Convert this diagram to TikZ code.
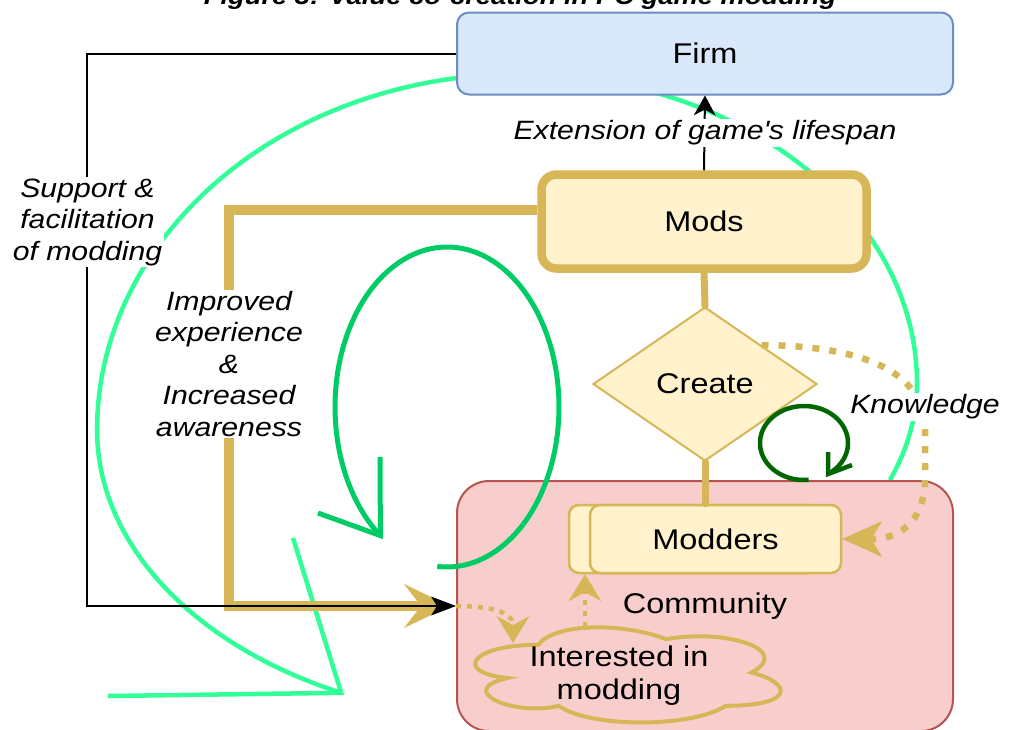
\documentclass[tikz,border=0pt]{standalone}
\usepackage{fontspec}
\setmainfont{Liberation Sans}[FakeStretch=1.14]
\usetikzlibrary{arrows.meta,shapes.geometric,calc}
\definecolor{firmfill}{HTML}{DAE8FC}
\definecolor{firmdraw}{HTML}{6C8EBF}
\definecolor{goldfill}{HTML}{FFF2CC}
\definecolor{golddraw}{HTML}{D6B656}
\definecolor{commfill}{HTML}{F8CECC}
\definecolor{commdraw}{HTML}{B85450}
\definecolor{lightgreen}{HTML}{33FF99}
\definecolor{midgreen}{HTML}{00CC66}
\definecolor{darkgreen}{HTML}{006600}
\tikzset{
  boxfont/.style={font=\fontsize{28.5}{33}\selectfont},
  lbl/.style={font=\fontsize{26.5}{31.5}\selectfont\itshape, fill=white, align=center, inner sep=1.5pt},
  firmbox/.style={draw=firmdraw, fill=firmfill, line width=2pt, rounded corners=12pt, minimum width=496pt, minimum height=82pt, inner sep=0pt, boxfont},
  modsbox/.style={draw=golddraw, fill=goldfill, line width=8.5pt, rounded corners=15pt, minimum width=325pt, minimum height=94pt, inner sep=0pt, boxfont},
  createbox/.style={diamond, draw=golddraw, fill=goldfill, line width=2pt, minimum width=224pt, minimum height=154pt, inner sep=0pt, boxfont},
  commbox/.style={draw=commdraw, fill=commfill, line width=2pt, rounded corners=32pt, minimum width=496pt, minimum height=250pt, inner sep=0pt, boxfont},
  modderbox/.style={draw=golddraw, fill=goldfill, line width=2.5pt, rounded corners=10pt, minimum height=68pt, inner sep=0pt, boxfont},
  cloudline/.style={draw=golddraw, line width=4pt},
  goldthick/.style={draw=golddraw, line width=10pt, line join=miter},
  goldconn/.style={draw=golddraw, line width=7pt, line cap=round},
  blackline/.style={draw=black, line width=2pt},
  bigdots/.style={draw=golddraw, line width=6.5pt, dash pattern=on 7pt off 10pt},
  smalldots/.style={draw=golddraw, line width=4.5pt, dash pattern=on 5pt off 6pt,
    -{Stealth[length=27pt,width=33pt,inset=9pt,line width=0pt]}},
  greenbig/.style={draw=lightgreen, line width=4.5pt, line join=miter},
  greenmid/.style={draw=midgreen, line width=5pt, line join=miter},
  greendark/.style={draw=darkgreen, line width=4.5pt, line join=miter},
}
\begin{document}
\begin{tikzpicture}[x=1pt,y=-1pt]
\useasboundingbox (0,0) rectangle (1009,729);

% title (cut off at top)
\node[font=\fontsize{24}{28}\selectfont\bfseries\itshape, anchor=base, inner sep=0pt] (title) at (520,4) {Figure 3: Value co-creation in PC game modding};

% big light green loop (four elliptic quarters)
\draw[greenbig]
  plot[domain=21.3:0, samples=20] ({520+397*cos(\x)},{383+267*sin(\x)})
  -- plot[domain=0:-90, samples=45] ({520+397*cos(\x)},{383+309*sin(\x)})
  -- plot[domain=-90:-180, samples=45] ({520+423*cos(\x)},{430+356*sin(\x)})
  -- plot[domain=-180:-245, samples=35] ({520+423*cos(\x)},{430+290*sin(\x)});
\draw[greenbig] (293,538) -- (341.2,692.8) -- (108,696);

% nodes
\node[firmbox] (firm) at (705,53.5) {Firm};
\node[modsbox] (mods) at (704,221.5) {Mods};
\node[createbox] (create) at (705,384) {Create};
\node[commbox] (comm) at (705,606) {Community};
\node[modderbox, minimum width=250pt] (modback) at (694,539) {};
\node[modderbox, minimum width=251pt] (modfront) at (715.5,539) {Modders};

% cloud
\draw[cloudline] (538.25,644.75)
  .. controls (470.05,644.75) and (453,672.5) .. (507.56,678.05)
  .. controls (453,690.26) and (514.38,716.9) .. (558.71,705.8)
  .. controls (589.4,728) and (691.7,728) .. (725.8,705.8)
  .. controls (794,705.8) and (794,683.6) .. (751.375,672.5)
  .. controls (794,650.3) and (725.8,628.1) .. (666.125,639.2)
  .. controls (623.5,622.55) and (555.3,622.55) .. (538.25,644.75) -- cycle;
\node[boxfont, align=center, inner sep=0pt] (interest) at (619,676) {Interested in\\modding};
\coordinate (cloudtop) at (585,627);
\coordinate (cloudleft) at (513,643);

% connectors
\coordinate (gcorner) at (228.5,209.5);
\draw[goldthick, shorten >=6pt, -{Stealth[length=46pt,width=44pt,inset=17pt,line width=0pt]}]
  ([yshift=12pt]mods.west) -- (gcorner) |- (comm.west);
\coordinate (bcorner) at (87,53.5);
\draw[blackline, -{Stealth[length=25pt,width=19pt,inset=6pt,line width=0pt]}]
  (firm.west) -- (bcorner) |- (comm.west);
\draw[blackline, -{Stealth[length=20pt,width=22pt,inset=6pt,line width=0pt]}]
  (mods.north) -- (firm.south);
\draw[goldconn] (mods.south) -- (create.north);
\draw[goldconn] (create.south) -- (create.south |- modfront.north);

% green loops
\draw[greenmid] plot[domain=95:-233.5, samples=140] ({447+112*cos(\x)},{407+160*sin(\x)});
\draw[greenmid] (380,457) -- (380.4,535.6) -- (318,513);
\draw[greendark] plot[domain=84:417, samples=90] ({804+44*cos(\x)},{443+37*sin(\x)});
\draw[greendark] (828,452) -- (828,474) -- (852,465);

% dotted connectors
\draw[bigdots, -{Stealth[length=40pt,width=36pt,inset=11pt,line width=0pt]}]
  ($(create.north)!0.5!(create.east)$) .. controls (870,346) and (925,375) .. (925,430)
  -- (925,480) .. controls (925,515) and (905,539) .. (modfront.east);
\draw[smalldots] (comm.west) .. controls (490,606) and (513,612) .. (cloudleft);
\draw[smalldots] (cloudtop) -- (cloudtop |- modback.south);

% labels
\node[lbl] (lsupport) at (87.5,222) {Support \&\\facilitation\\of modding};
\node[lbl] (limproved) at (229,364) {Improved\\experience\\\&\\Increased\\awareness};
\node[lbl] (lext) at (705,133) {Extension of game\textquotesingle s lifespan};
\node[lbl] (lknow) at (925,407) {Knowledge};
\end{tikzpicture}
\end{document}
